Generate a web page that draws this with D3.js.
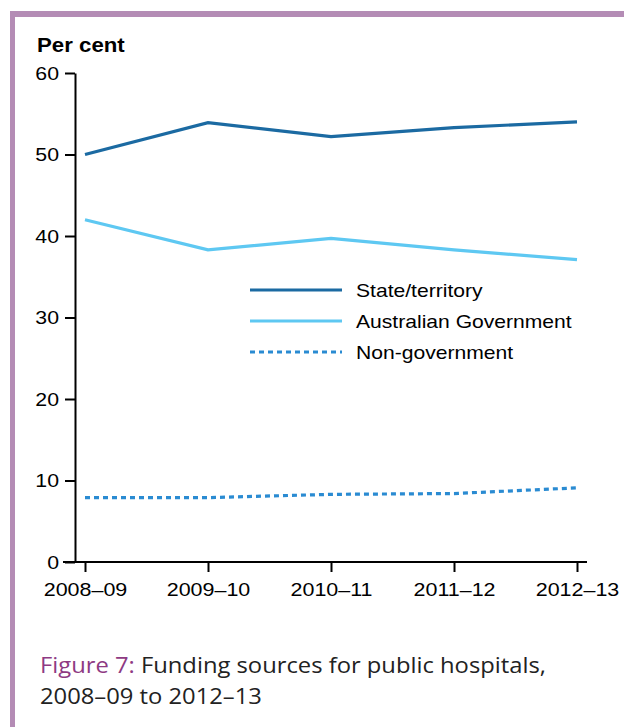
<!DOCTYPE html>
<html><head><meta charset="utf-8">
<script src="https://cdn.jsdelivr.net/npm/d3@7"></script>
<style>body{margin:0;background:#fff}svg{display:block}</style>
</head><body>
<svg id="c" width="624" height="727"></svg>
<script>
const years = ["2008–09","2009–10","2010–11","2011–12","2012–13"];
const stateTerritory = [50.0, 53.9, 52.2, 53.3, 54.0];
const australianGov = [42.0, 38.3, 39.7, 38.3, 37.1];
const nonGov = [7.9, 7.9, 8.3, 8.4, 9.1];
const yTicks = [0,10,20,30,40,50,60];
const seriesNames = ["State/territory","Australian Government","Non-government"];

const FONT = "Liberation Sans, Arial, sans-serif";
const svg = d3.select("#c");
function stretch(sel, k){
  sel.each(function(){
    const w = this.getComputedTextLength();
    d3.select(this).attr("textLength", w*k).attr("lengthAdjust","spacingAndGlyphs");
  });
}
// frame
svg.append("rect").attr("x",10).attr("y",11).attr("width",624).attr("height",6).attr("fill","#b48cb5");
svg.append("rect").attr("x",10).attr("y",11).attr("width",5).attr("height",727).attr("fill","#b48cb5");

const x = d3.scalePoint().domain(years).range([85,577]);
const y = d3.scaleLinear().domain([0,60]).range([562,73]);

// y axis
const ya = svg.append("g").attr("transform","translate(75,0)")
  .call(d3.axisLeft(y).tickValues(yTicks).tickSize(10).tickPadding(6).tickSizeOuter(0));
ya.select(".domain").attr("stroke","#000").attr("stroke-width",2);
ya.selectAll(".tick line").attr("stroke","#000").attr("stroke-width",2);
ya.selectAll(".tick text").attr("font-family",FONT).attr("font-size",19).attr("fill","#000").call(stretch,1.12);

// x axis
const xa = svg.append("g").attr("transform","translate(0,562)")
  .call(d3.axisBottom(x).tickSize(10).tickPadding(11).tickSizeOuter(0));
xa.select(".domain").attr("d","M63,0H587").attr("stroke","#000").attr("stroke-width",2);
xa.selectAll(".tick line").attr("stroke","#000").attr("stroke-width",2);
xa.selectAll(".tick text").attr("font-family",FONT).attr("font-size",19).attr("fill","#000").call(stretch,1.13);

svg.append("text").attr("x",37).attr("y",52).text("Per cent")
  .attr("font-family",FONT).attr("font-weight","bold").attr("font-size",19.5).attr("fill","#000").call(stretch,1.14);

const styles = [
  {data: stateTerritory, color:"#1b6aa2", dash:null},
  {data: australianGov, color:"#5ec8f2", dash:null},
  {data: nonGov, color:"#2a8bd2", dash:"5,4"}
];
const line = d3.line().x((d,i)=>x(years[i])).y(d=>y(d));
styles.forEach(s=>{
  svg.append("path").attr("d",line(s.data)).attr("fill","none")
    .attr("stroke",s.color).attr("stroke-width",3.2).attr("stroke-dasharray",s.dash);
});

// legend
const ly = [290,321,352];
seriesNames.forEach((n,i)=>{
  svg.append("line").attr("x1",250).attr("x2",342).attr("y1",ly[i]).attr("y2",ly[i])
    .attr("stroke",styles[i].color).attr("stroke-width",3.2).attr("stroke-dasharray",styles[i].dash);
  svg.append("text").attr("x",356).attr("y",ly[i]+7).text(n)
    .attr("font-family",FONT).attr("font-size",19).attr("fill","#000").call(stretch,1.11);
});

// caption
const CF = "Open Sans, Noto Sans, sans-serif";
const cap = svg.append("text").attr("x",40).attr("y",673)
  .attr("font-family",CF).attr("font-size",22).attr("fill","#222");
cap.append("tspan").attr("fill","#8e3a83").text("Figure 7:");
cap.append("tspan").text(" Funding sources for public hospitals,");
stretch(cap, 1.08);
svg.append("text").attr("x",40).attr("y",704).text("2008–09 to 2012–13")
  .attr("font-family",CF).attr("font-size",22).attr("fill","#222").call(stretch,1.08);
</script>
</body></html>
